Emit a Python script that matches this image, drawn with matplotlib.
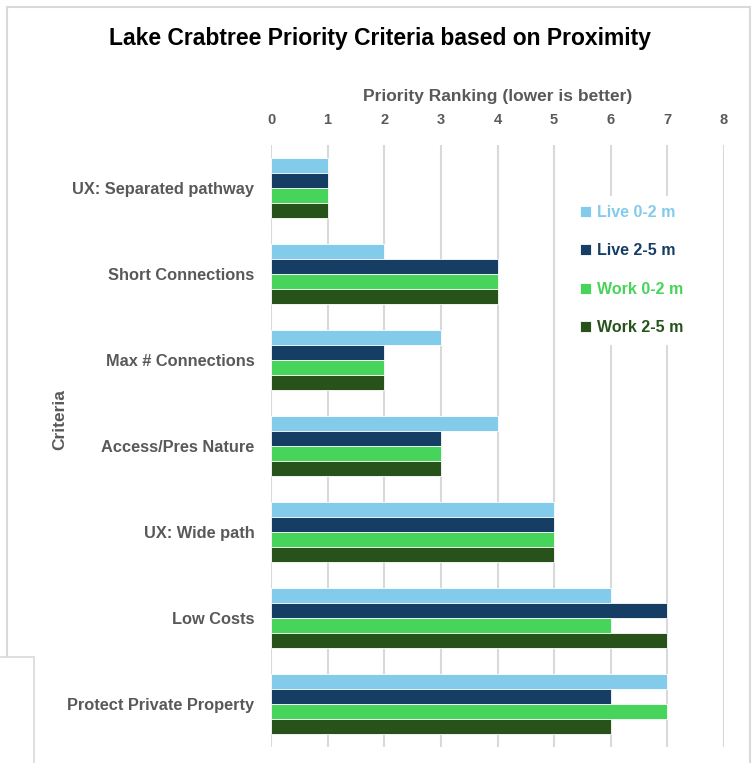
import matplotlib
matplotlib.use("Agg")
import matplotlib.pyplot as plt
from matplotlib import font_manager
from matplotlib.patches import Patch, Rectangle

# -------------------------
# Data
# -------------------------
criteria = [
    "UX: Separated pathway",
    "Short Connections",
    "Max # Connections",
    "Access/Pres Nature",
    "UX: Wide path",
    "Low Costs",
    "Protect Private Property",
]
series_names = ["Live 0-2 m", "Live 2-5 m", "Work 0-2 m", "Work 2-5 m"]
live_0_2 = [1, 2, 3, 4, 5, 6, 7]
live_2_5 = [1, 4, 2, 3, 5, 7, 6]
work_0_2 = [1, 4, 2, 3, 5, 6, 7]
work_2_5 = [1, 4, 2, 3, 5, 7, 6]
x_ticks = [0, 1, 2, 3, 4, 5, 6, 7, 8]

# -------------------------
# Styling
# -------------------------
colors = ["#83CBEB", "#163E64", "#47D45A", "#27531A"]
GRAY = "#595959"
GRID = "#D9D9D9"
W, H = 753, 763


def pick_font(names):
    installed = {f.name for f in font_manager.fontManager.ttflist}
    for n in names:
        if n in installed:
            return n
    return "DejaVu Sans"


narrow = pick_font(["Liberation Sans Narrow", "Arial Narrow", "Liberation Sans"])
wide = pick_font(["Liberation Sans", "DejaVu Sans"])

fig = plt.figure(figsize=(W / 100, H / 100), dpi=100)
ax = fig.add_axes([271 / W, 1 - 747 / H, (724 - 271) / W, (747 - 145) / H])

# frame around chart area (as in the source screenshot)
fig.patches.append(Rectangle((7 / W, -0.05), (750 - 7) / W, 1.05 - 7 / H,
                             transform=fig.transFigure, fill=False,
                             edgecolor=GRID, linewidth=1.5, zorder=0))
fig.patches.append(Rectangle((-0.01, -0.05), 0.01 + 34 / W, 0.05 + (763 - 657) / H,
                             transform=fig.transFigure, facecolor="white",
                             edgecolor=GRID, linewidth=1.2, zorder=1))

series = [live_0_2, live_2_5, work_0_2, work_2_5]
bar_h = 0.175
pos = list(range(len(criteria)))
for k, (vals, name, c) in enumerate(zip(series, series_names, colors)):
    off = (k - 1.5) * bar_h
    ax.barh([p + off for p in pos], vals, height=bar_h, color=c,
            edgecolor="white", linewidth=0.6, label=name, zorder=3)

ax.set_xlim(0, 8)
ax.set_ylim(len(criteria) - 0.5, -0.5)
ax.set_xticks(x_ticks)
ax.xaxis.tick_top()
ax.tick_params(axis="x", length=0, pad=13, labelsize=10.5, labelcolor=GRAY)
ax.set_yticks(pos)
ax.set_yticklabels(criteria)
ax.tick_params(axis="y", length=0, pad=12, labelsize=11.8, labelcolor=GRAY)
for lab in ax.get_xticklabels():
    lab.set_fontfamily(narrow)
    lab.set_fontweight("bold")
for lab in ax.get_yticklabels():
    lab.set_fontfamily(narrow)
    lab.set_fontweight("bold")

ax.grid(axis="x", color=GRID, linewidth=1.5, zorder=0)
ax.grid(axis="y", visible=False)
for s in ax.spines.values():
    s.set_visible(False)

fig.text(380 / W, 1 - 38 / H, "Lake Crabtree Priority Criteria based on Proximity",
         ha="center", va="center", fontsize=16.5, fontweight="bold",
         family=narrow, color="black")
fig.text(497.5 / W, 1 - 97 / H, "Priority Ranking (lower is better)",
         ha="center", va="center", fontsize=12.5, fontweight="bold",
         family=narrow, color=GRAY)
fig.text(60 / W, 1 - 420 / H, "Criteria", rotation=90,
         ha="center", va="center", fontsize=12.5, fontweight="bold",
         family=narrow, color=GRAY)

handles = [Patch(facecolor=c, edgecolor="white", linewidth=0.6) for c in colors]
leg = ax.legend(handles, series_names, loc="upper left",
                bbox_to_anchor=(563 / W, 1 - 188 / H), bbox_transform=fig.transFigure,
                frameon=True, framealpha=1, edgecolor="white", fancybox=False,
                handlelength=0.7, handleheight=0.7, handletextpad=0.4,
                labelspacing=1.47, borderpad=0.55,
                prop={"family": wide, "weight": "bold", "size": 11.5},
                labelcolor=colors)
leg.set_zorder(5)

fig.savefig("out.png", dpi=100, facecolor="white")
